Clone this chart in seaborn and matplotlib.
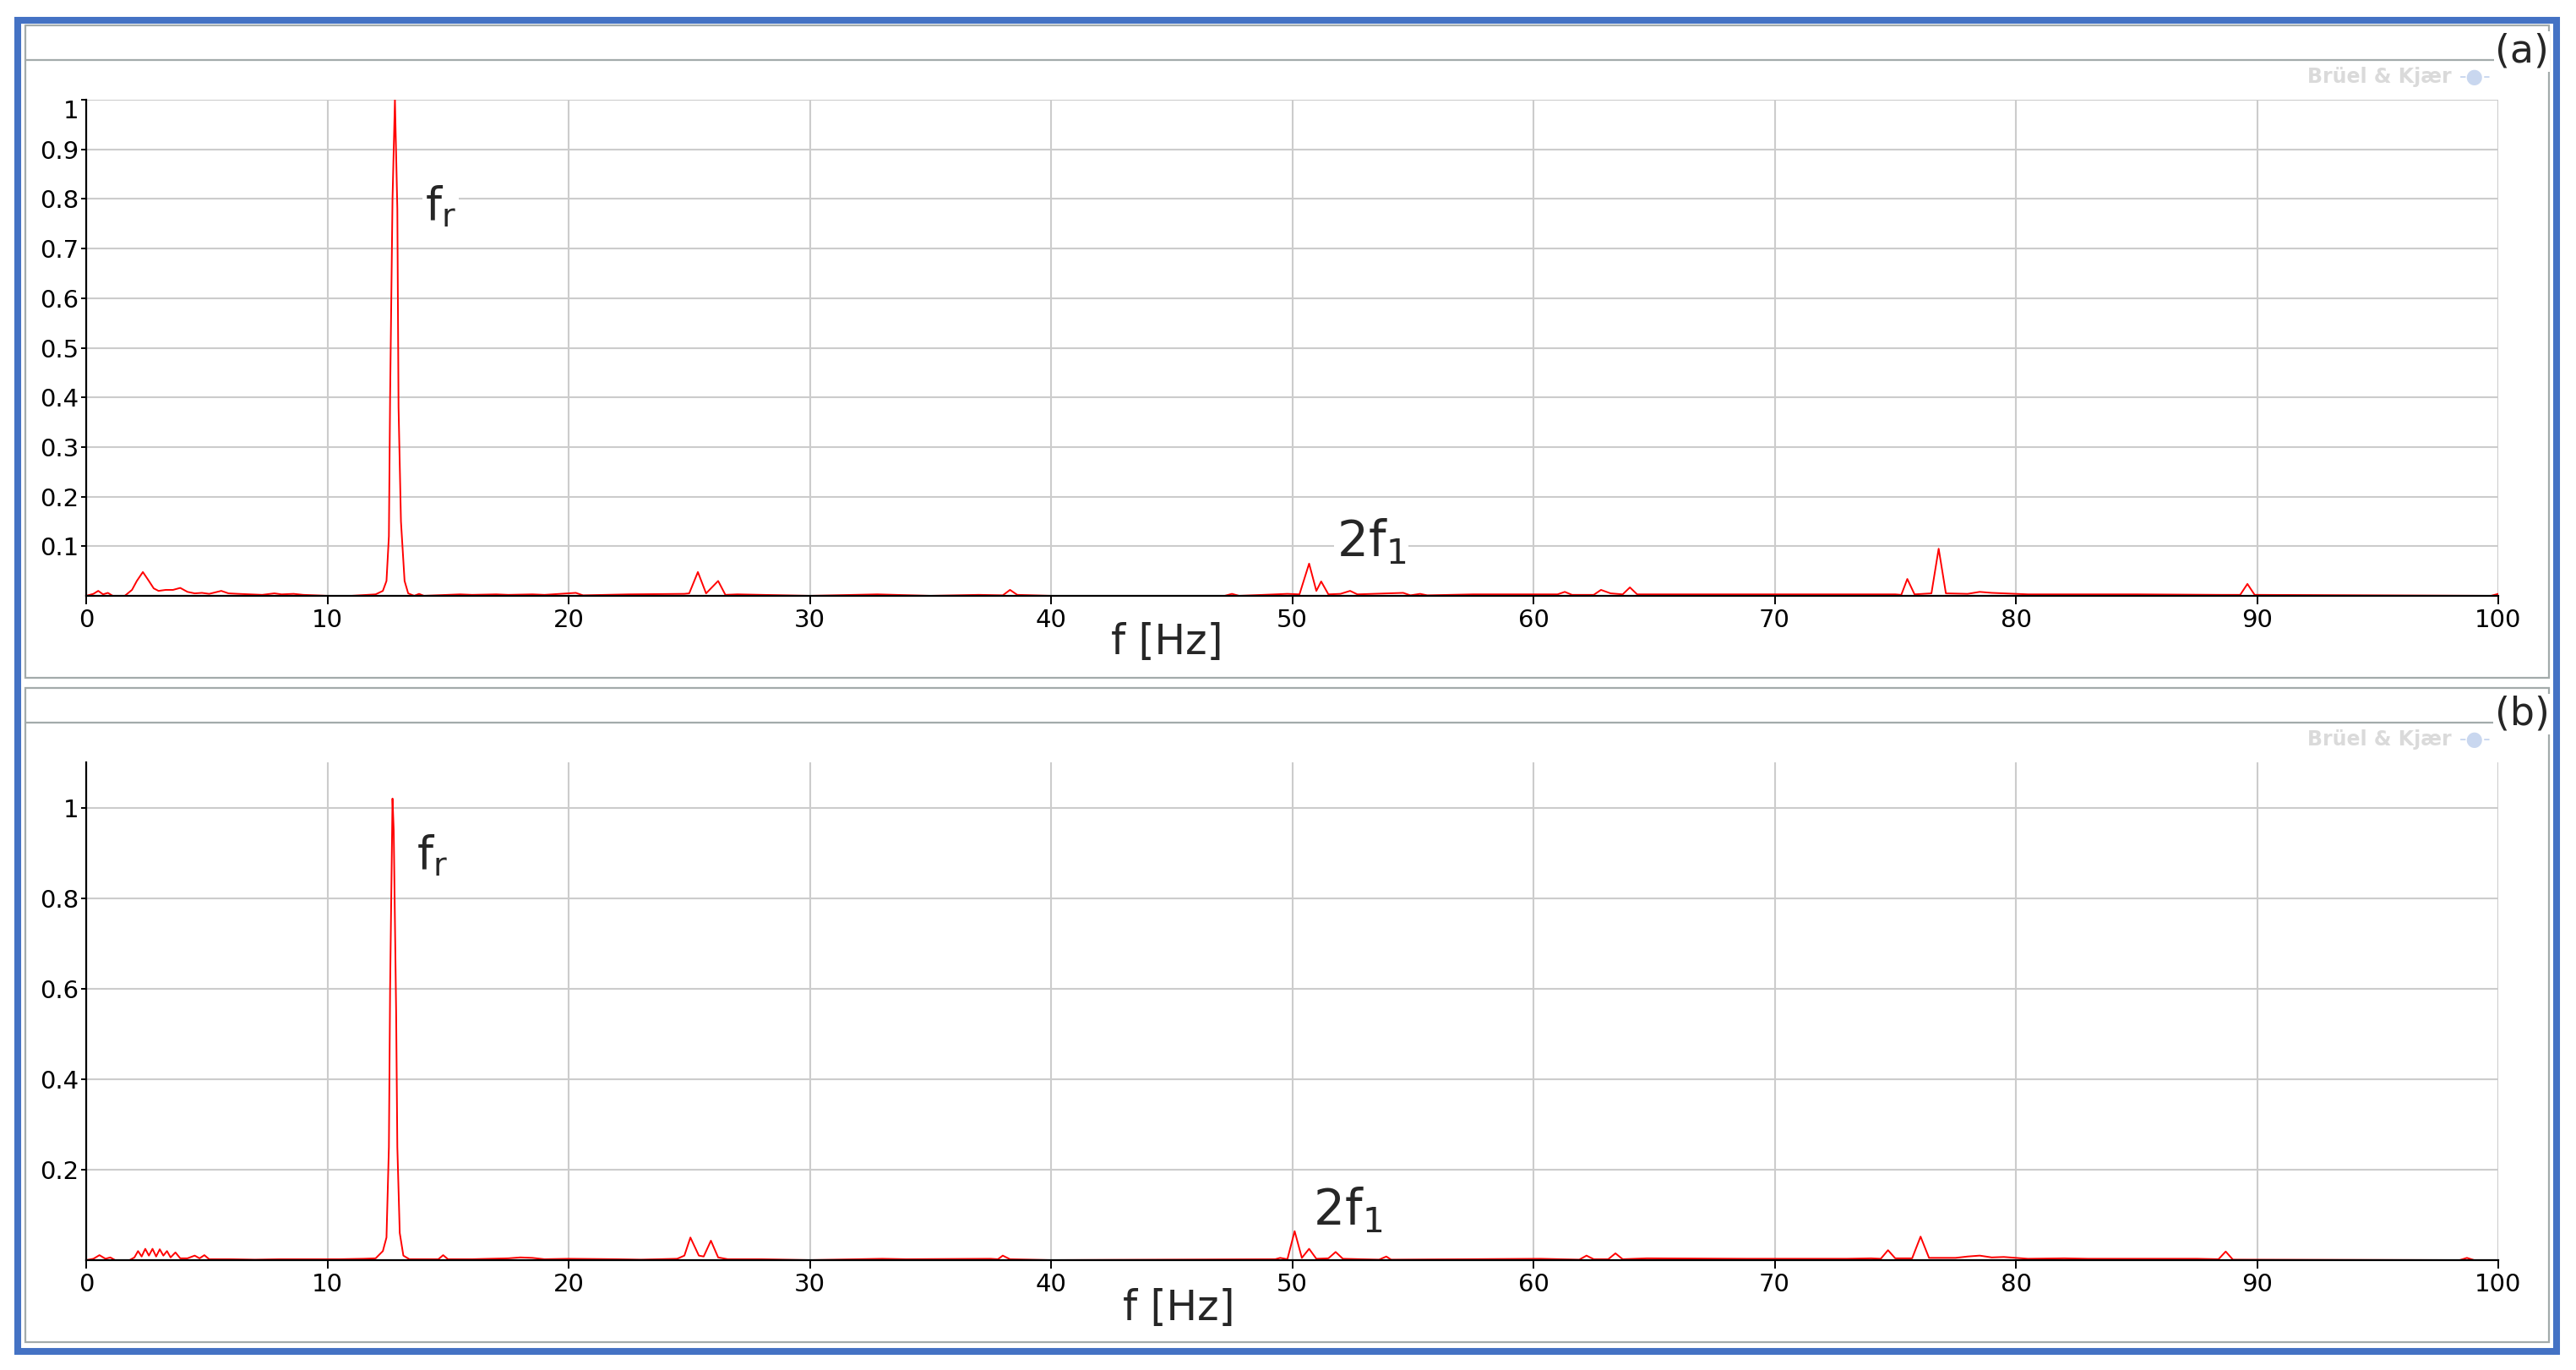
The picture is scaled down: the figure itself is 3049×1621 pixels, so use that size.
import matplotlib
matplotlib.use("Agg")
import matplotlib.pyplot as plt
from matplotlib.patches import Rectangle
from matplotlib.lines import Line2D
import seaborn as sns

sns.set_style("white")
plt.rcParams['font.family'] = ['DejaVu Sans']

# ---- data ----
freq_a = [0.0, 0.3, 0.5, 0.7, 0.9, 1.1, 1.6, 1.9, 2.1, 2.35, 2.6, 2.8, 3.0, 3.3, 3.6, 3.9,
          4.2, 4.5, 4.8, 5.1, 5.6, 5.9, 6.3, 6.8, 7.3, 7.8, 8.1, 8.6, 9.0, 9.5, 10.0, 11.0,
          12.0, 12.3, 12.45, 12.55, 12.6, 12.7, 12.8, 12.9, 12.95, 13.05, 13.2, 13.35, 13.6,
          13.8, 14.0, 15.5, 16.0, 17.0, 17.5, 18.5, 19.0, 20.3, 20.6, 22.5, 24.8, 25.0, 25.36,
          25.7, 26.2, 26.5, 27.0, 28.0, 30.0, 32.8, 35.0, 37.0, 38.0, 38.3, 38.6, 40.0, 47.2,
          47.5, 47.8, 49.8, 50.3, 50.7, 51.0, 51.2, 51.5, 52.0, 52.4, 52.7, 54.6, 54.9, 55.3,
          55.6, 57.5, 58.0, 61.0, 61.3, 61.6, 62.5, 62.8, 63.2, 63.7, 64.0, 64.3, 67.0, 70.3,
          72.5, 75.0, 75.25, 75.5, 75.8, 76.5, 76.8, 77.1, 78.0, 78.5, 79.0, 79.5, 80.5, 82.0,
          83.0, 84.0, 85.0, 88.5, 89.3, 89.6, 89.9, 99.7, 100.0]
amp_a = [0.0, 0.004, 0.01, 0.003, 0.006, 0.0, 0.0, 0.012, 0.03, 0.048, 0.03, 0.015, 0.01,
         0.012, 0.012, 0.016, 0.008, 0.005, 0.006, 0.004, 0.01, 0.005, 0.004, 0.003, 0.002,
         0.005, 0.003, 0.004, 0.002, 0.001, 0.0, 0.0, 0.003, 0.01, 0.03, 0.12, 0.40, 0.80,
         1.0, 0.78, 0.38, 0.15, 0.03, 0.005, 0.0, 0.004, 0.0, 0.003, 0.002, 0.003, 0.002,
         0.003, 0.002, 0.006, 0.001, 0.003, 0.004, 0.005, 0.048, 0.005, 0.03, 0.002, 0.003,
         0.002, 0.0, 0.003, 0.0, 0.002, 0.001, 0.012, 0.002, 0.0, 0.0, 0.004, 0.0, 0.004,
         0.003, 0.065, 0.01, 0.029, 0.003, 0.004, 0.01, 0.003, 0.006, 0.001, 0.004, 0.001,
         0.003, 0.003, 0.003, 0.008, 0.002, 0.002, 0.012, 0.005, 0.003, 0.017, 0.003, 0.003,
         0.003, 0.003, 0.003, 0.002, 0.034, 0.003, 0.005, 0.095, 0.005, 0.004, 0.008, 0.006,
         0.005, 0.003, 0.003, 0.003, 0.003, 0.003, 0.002, 0.002, 0.024, 0.002, 0.0, 0.004]

freq_b = [0.0, 0.3, 0.55, 0.8, 1.0, 1.2, 1.8, 2.0, 2.15, 2.3, 2.45, 2.6, 2.75, 2.9, 3.05,
          3.2, 3.35, 3.5, 3.7, 3.9, 4.2, 4.5, 4.7, 4.9, 5.1, 6.0, 7.0, 8.0, 9.5, 10.5, 11.5,
          12.0, 12.3, 12.45, 12.55, 12.6, 12.7, 12.75, 12.85, 12.9, 13.0, 13.15, 13.4, 14.6,
          14.8, 15.0, 16.0, 17.5, 18.0, 18.5, 19.0, 20.0, 22.0, 23.0, 24.5, 24.8, 25.05, 25.4,
          25.6, 25.9, 26.2, 26.6, 28.0, 30.0, 33.0, 34.0, 37.5, 37.8, 38.0, 38.3, 40.0, 49.3,
          49.5, 49.8, 50.1, 50.4, 50.7, 51.0, 51.5, 51.8, 52.1, 53.6, 53.9, 54.1, 60.3, 61.9,
          62.2, 62.5, 63.1, 63.4, 63.7, 64.7, 68.8, 71.0, 73.0, 74.0, 74.4, 74.7, 75.0, 75.7,
          76.05, 76.4, 77.5, 78.0, 78.5, 79.0, 79.5, 80.5, 82.0, 83.0, 84.8, 86.5, 87.5, 88.4,
          88.7, 89.0, 98.4, 98.7, 99.0, 100.0]
amp_b = [0.0, 0.003, 0.011, 0.003, 0.006, 0.0, 0.0, 0.006, 0.02, 0.008, 0.025, 0.01, 0.025,
         0.008, 0.024, 0.01, 0.02, 0.006, 0.017, 0.004, 0.004, 0.01, 0.004, 0.011, 0.002,
         0.002, 0.001, 0.002, 0.002, 0.002, 0.003, 0.004, 0.02, 0.05, 0.25, 0.60, 1.02, 0.95,
         0.55, 0.25, 0.06, 0.01, 0.002, 0.002, 0.011, 0.002, 0.002, 0.004, 0.006, 0.005,
         0.002, 0.003, 0.002, 0.001, 0.003, 0.01, 0.05, 0.01, 0.008, 0.043, 0.006, 0.002,
         0.002, 0.0, 0.003, 0.002, 0.003, 0.002, 0.01, 0.002, 0.0, 0.002, 0.005, 0.002, 0.064,
         0.005, 0.025, 0.003, 0.004, 0.018, 0.003, 0.001, 0.008, 0.001, 0.003, 0.001, 0.01,
         0.002, 0.002, 0.015, 0.002, 0.004, 0.003, 0.003, 0.003, 0.004, 0.003, 0.022, 0.004,
         0.004, 0.052, 0.005, 0.005, 0.008, 0.01, 0.006, 0.007, 0.003, 0.004, 0.003, 0.003,
         0.003, 0.003, 0.002, 0.019, 0.001, 0.0, 0.005, 0.0, 0.0]

xticks = [0, 10, 20, 30, 40, 50, 60, 70, 80, 90, 100]
yticks_a = [0.1, 0.2, 0.3, 0.4, 0.5, 0.6, 0.7, 0.8, 0.9, 1.0]
yticks_b = [0.2, 0.4, 0.6, 0.8, 1.0]
panel_labels = ['(a)', '(b)']

W, H = 3049, 1621
fig = plt.figure(figsize=(W / 100, H / 100), dpi=100)


def fig_box(x0, y0, x1, y1):
    # pixel box (top-left origin) -> figure fraction rect
    return [x0 / W, 1 - y1 / H, (x1 - x0) / W, (y1 - y0) / H]


# blue outer frame and the two grey panels
fig.add_artist(Rectangle((21 / W, 1 - 1599 / H), 3005 / W, 1575 / H, fill=False,
                         edgecolor='#4472c4', lw=5.8, transform=fig.transFigure))
for top, bot in [(30, 802), (814, 1588)]:
    fig.add_artist(Rectangle((30 / W, 1 - bot / H), 2987 / W, (bot - top) / H, fill=False,
                             edgecolor='#a3abab', lw=1.6, transform=fig.transFigure))
    hy = 1 - (top + 41) / H
    fig.add_artist(Line2D([30 / W, 3017 / W], [hy, hy], color='#a3abab', lw=1.6,
                          transform=fig.transFigure))

axes = [fig.add_axes(fig_box(102, 118, 2957, 705)),
        fig.add_axes(fig_box(102, 902, 2957, 1491))]

series = [(freq_a, amp_a, yticks_a, 1.0), (freq_b, amp_b, yticks_b, 1.1)]
for ax, (fr, am, yt, ytop) in zip(axes, series):
    sns.lineplot(x=fr, y=am, ax=ax, color='#ff0000', lw=1.4, estimator=None, sort=False)
    ax.set_xlim(0, 100)
    ax.set_ylim(0, ytop)
    ax.set_xticks(xticks)
    ax.set_xticklabels([str(t) for t in xticks])
    ax.set_yticks(yt)
    ax.set_yticklabels(['1' if v == 1.0 else f'{v:g}' for v in yt])
    ax.grid(True, color='#cccccc', lw=1.5)
    ax.set_axisbelow(True)
    for s in ['top', 'right']:
        ax.spines[s].set_visible(False)
    for s in ['left', 'bottom']:
        ax.spines[s].set_color('black')
        ax.spines[s].set_linewidth(1.6)
    ax.tick_params(axis='x', direction='out', length=7, width=1.4, pad=4, labelsize=21,
                   bottom=True, colors='black')
    ax.tick_params(axis='y', direction='out', length=4, width=1.4, pad=2, labelsize=21,
                   left=True, colors='black')
    ax.patch.set_alpha(0)

# the "1" label of panel (a) sits just below its tick
axes[0].get_yticklabels()[-1].set_va('top')

# x labels
axes[0].set_xlabel('f [Hz]', fontsize=35)
axes[0].xaxis.set_label_coords(0.448, -0.094)
axes[0].xaxis.label.set_va('center')
axes[1].set_xlabel('f [Hz]', fontsize=35)
axes[1].xaxis.set_label_coords(0.453, -0.097)
axes[1].xaxis.label.set_va('center')

# peak annotations
box = dict(facecolor='white', edgecolor='none', pad=2)
axes[0].text(14.05, 0.758, r'$\mathregular{f_r}$', fontsize=39, va='baseline', bbox=box)
axes[0].text(51.84, 0.080, r'$\mathregular{2f_1}$', fontsize=42, va='baseline', bbox=box)
axes[1].text(13.7, 0.865, r'$\mathregular{f_r}$', fontsize=39, va='baseline', bbox=box)
axes[1].text(50.86, 0.077, r'$\mathregular{2f_1}$', fontsize=42, va='baseline', bbox=box)

# panel tags and faint software watermark
for lab, top in zip(panel_labels, [30, 814]):
    fig.text(2985 / W, 1 - (top + 31) / H, lab, fontsize=33, ha='center', va='center',
             bbox=dict(facecolor='white', edgecolor='none', pad=1))
    fig.text(2902 / W, 1 - (top + 61) / H, 'Brüel & Kjær', fontsize=17, fontweight='bold',
             color='#dadada', ha='right', va='center')
    fig.text(2930 / W, 1 - (top + 61) / H, '-●-', fontsize=17, color='#c9d7ef',
             ha='center', va='center')

fig.savefig('out.png', dpi=100, facecolor='white')
